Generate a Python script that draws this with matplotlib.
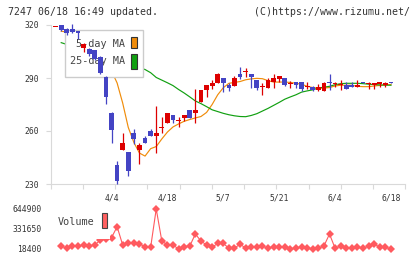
import numpy as np
import matplotlib.pyplot as plt
from matplotlib.patches import Rectangle

# trading days 3/21 .. 6/18, first one has no volume point
dates = ['3/21', '3/22', '3/25', '3/26', '3/27', '3/28', '3/29',
         '4/1', '4/2', '4/3', '4/4', '4/5', '4/8', '4/9', '4/10', '4/11', '4/12',
         '4/15', '4/16', '4/17', '4/18', '4/19', '4/22', '4/23', '4/24', '4/25',
         '4/26', '4/30', '5/1', '5/2', '5/7', '5/8', '5/9', '5/10', '5/13', '5/14',
         '5/15', '5/16', '5/17', '5/20', '5/21', '5/22', '5/23', '5/24', '5/27',
         '5/28', '5/29', '5/30', '5/31', '6/3', '6/4', '6/5', '6/6', '6/7', '6/10',
         '6/11', '6/12', '6/13', '6/14', '6/17', '6/18']

opens = [319, 319.8, 318, 318, 316.8, 306.8, 306.2, 305.8, 302, 290.4,
         270.4, 240.8, 249.3, 248.1, 258.7, 249.3, 256.2, 260, 257.3, 262,
         264.7, 269, 265.8, 267.5, 271.9, 270.4, 276.6, 283.2, 285.7, 287,
         290, 286, 285.7, 292.3, 293.6, 292.3, 288.9, 285, 284.5, 287.5,
         289.3, 290, 287, 287.7, 287.7, 285.1, 284.7, 283.2, 282.8, 287.7,
         287, 286.2, 285.9, 285.9, 284.7, 287.7, 287, 285.9, 286.6, 285.9, 287.7]
highs = [319, 320, 318.5, 320.5, 316.8, 310, 306.8, 306, 302.5, 291,
         271, 243, 258.7, 248.1, 261.1, 253.4, 257.2, 261.3, 274.2, 267.8,
         270.3, 269, 267.8, 269, 272, 283.8, 283.2, 286, 288.9, 292.8,
         290, 287.4, 291.1, 296.4, 295.5, 292.3, 288.9, 287.4, 289.8, 292.3,
         291.1, 290, 288.5, 287.7, 287.7, 287.7, 285.5, 286.5, 288, 292.3,
         287.7, 288.9, 287.5, 287.5, 288.9, 287.7, 287.7, 287.2, 287.7, 287.7, 287.7]
lows = [319, 316.4, 314.5, 315.5, 312, 305, 302.6, 300, 292.5, 275.3,
        253.4, 230, 249.3, 234.7, 252.6, 241.3, 253.4, 257, 247.7, 259,
        264.7, 264.7, 262.4, 265.6, 267.5, 264.7, 276.6, 279.1, 283.6, 287,
        281.9, 282.8, 285.7, 289.3, 290.7, 284.3, 283.2, 280.4, 284.5, 284.5,
        287.5, 285.7, 284.5, 284.5, 282.5, 283.6, 282.8, 282.5, 282.8, 283.4,
        284.7, 283.2, 283.6, 284.7, 284.7, 287, 283.6, 283.6, 284.7, 284.7, 287]
closes = [319, 317, 315.2, 315.8, 315.5, 309.2, 303.6, 300.6, 292.7, 279.4,
          260.6, 231.9, 253, 237.5, 255.5, 252.1, 253.4, 257.2, 258.7, 262,
          270, 266.2, 265.8, 269, 267.5, 271.9, 283.2, 286, 287.4, 292.3,
          287, 284.3, 290, 290.8, 293.6, 290.8, 284.3, 285, 288.9, 290.1,
          291.1, 285.8, 287, 285.9, 283.6, 285.1, 283.2, 285.1, 287.4, 287,
          287, 286.2, 283.6, 284.7, 286.2, 287, 287, 287.2, 287.7, 287.2, 287]

ma5 = [np.nan, 316.5, 316, 315.5, 315.5, 315.2, 313.5, 310.8, 307, 301.5,
       294, 287.2, 275.8, 262, 253.5, 247.5, 245.8, 250, 251.2, 255.5,
       259.4, 262.3, 264, 265.5, 266.5, 267.4, 268.2, 270.5, 275, 280.5,
       284.5, 287, 287.5, 288, 289, 289.5, 289.8, 289.6, 288.5, 287.7,
       287.7, 287.7, 287.5, 287, 286.5, 285.3, 284.6, 284.3, 284.3, 284.6,
       285.5, 285.9, 285.9, 285.9, 285.3, 285.1, 285.1, 285.5, 285.8, 286, 286.3]
ma25 = [np.nan, 310, 309, 308.3, 307.5, 306.7, 305.8, 304.8, 303.8, 302.7,
        301.6, 300.4, 299.2, 298, 296.9, 295.9, 294.8, 293, 290.3, 288.8,
        287.3, 285.7, 283.5, 281.5, 279.3, 277, 275.5, 273.8, 272, 271,
        270, 269.2, 268.6, 268.2, 268.1, 268.8, 269.8, 271.3, 272.8, 274.5,
        276.2, 278, 279.3, 280.5, 282, 282.7, 283.3, 284.3, 284.8, 285.3,
        286.2, 286.8, 287, 287, 287, 286.8, 286.5, 286.3, 286.1, 286, 285.9]

volume = [np.nan, 65400, 29400, 65000, 65000, 81000, 65000, 81000, 159000, 180000,
          195000, 368000, 81000, 117000, 107000, 97000, 55000, 45000, 644900, 144000,
          81000, 81000, 18400, 55000, 65000, 253000, 144000, 81000, 45000, 107000,
          107000, 29400, 29400, 97000, 29400, 45000, 55000, 65000, 29400, 55000,
          45000, 45000, 18400, 29400, 55000, 29400, 18400, 29400, 65000, 253000,
          29400, 65000, 29400, 29400, 45000, 29400, 65000, 97000, 45000, 45000, 18400]

tick_dates = ['4/4', '4/18', '5/7', '5/21', '6/4', '6/18']
price_ticks = [230, 260, 290, 320]
vol_ticks = [18400, 331650, 644900]

W, H = 420, 259
plt.rcParams['font.family'] = 'DejaVu Sans Mono'
fig = plt.figure(figsize=(4.2, 2.59), dpi=100)


def fx(x):
    return x / W


def fy(y):
    return 1 - y / H


gray = '#d9d9d9'
txt = '#333333'
red = '#dd0000'
blue = '#4444c4'

x = np.arange(-1, len(dates) - 1)
xlim = (-1.88, 61.56)

# ---- price panel
ax = fig.add_axes([fx(50.7), fy(184), fx(405.3) - fx(50.7), fy(25) - fy(184)])
o = np.array(opens)
c = np.array(closes)
cols = [red if cc >= oo else blue for oo, cc in zip(o, c)]
body = np.abs(c - o)
bot = np.minimum(o, c) - np.clip(0.6 - body, 0, None) / 2
body = np.maximum(body, 0.6)
ax.vlines(x, lows, highs, colors=cols, lw=0.9, zorder=6, clip_on=False)
ax.bar(x, body, bottom=bot, width=0.85, color=cols, lw=0, zorder=7, clip_on=False)

ax.plot(x, ma5, color='#f08c0a', lw=0.85, zorder=2)
ax.plot(x, ma25, color='#11a011', lw=0.85, zorder=2)

ax.set_xlim(*xlim)
ax.set_ylim(230, 320)
ax.set_yticks(price_ticks)
ax.set_xticks(np.linspace(xlim[0], xlim[1], 12))
ax.set_xticklabels([])
for s in ['top', 'right']:
    ax.spines[s].set_visible(False)
for s in ['left', 'bottom']:
    ax.spines[s].set_color(gray)
ax.tick_params(colors=gray, labelcolor=txt, labelsize=5.8, length=3.6, pad=4.6)

for d in tick_dates:
    ax.text(dates.index(d) - 1, -0.088, d, transform=ax.get_xaxis_transform(),
            ha='center', va='center', fontsize=5.8, color=txt)

# legend of the price panel (drawn under the candles)
ax.add_artist(Rectangle((fx(65), fy(77.3)), fx(143.3) - fx(65), fy(30) - fy(77.3),
                        transform=fig.transFigure, facecolor='white',
                        edgecolor='#cccccc', lw=1, zorder=4))
ax.text(fx(125.5), fy(44), '5-day MA', transform=fig.transFigure, ha='right',
        va='center', fontsize=7.3, color='#444444', zorder=5)
ax.text(fx(125.5), fy(61.5), '25-day MA', transform=fig.transFigure, ha='right',
        va='center', fontsize=7.3, color='#444444', zorder=5)
ax.add_artist(Rectangle((fx(131), fy(48.3)), fx(6.3), 11 / H, transform=fig.transFigure,
                        facecolor='#f08c0a', edgecolor='#333333', lw=0.8, zorder=5))
ax.add_artist(Rectangle((fx(131), fy(69.3)), fx(6.3), 15 / H, transform=fig.transFigure,
                        facecolor='#11a011', edgecolor='#333333', lw=0.8, zorder=5))

# ---- volume panel
vax = fig.add_axes([fx(50.7), fy(249), fx(405.3) - fx(50.7), fy(209) - fy(249)])
vax.plot(x, volume, color='#ff5a5f', lw=0.8, marker='D', ms=3.7, mew=0,
         zorder=2, clip_on=False)
vax.set_xlim(*xlim)
vax.set_ylim(18400, 644900)
vax.set_yticks(vol_ticks)
vax.set_yticklabels([str(v) for v in vol_ticks])
vax.set_xticks([])
for s in vax.spines.values():
    s.set_visible(False)
vax.tick_params(length=0, labelcolor=txt, labelsize=5.8, pad=6.4)

vax.add_artist(Rectangle((fx(55), fy(238.5)), fx(54.5), 28.5 / H, transform=fig.transFigure,
                         facecolor='white', edgecolor='none', zorder=3))
vax.text(fx(58), fy(222), 'Volume', transform=fig.transFigure, ha='left', va='center',
         fontsize=7.3, color='#444444', zorder=4)
vax.add_artist(Rectangle((fx(101.7), fy(228.3)), fx(5.6), 15 / H, transform=fig.transFigure,
                         facecolor='#ff6060', edgecolor='#444444', lw=0.8, zorder=4))

fig.text(fx(8), fy(12), '7247 06/18 16:49 updated.', ha='left', va='center',
         fontsize=7.1, color=txt)
fig.text(fx(410), fy(12), '(C)https://www.rizumu.net/', ha='right', va='center',
         fontsize=7.1, color=txt)

fig.savefig('out.png', dpi=100)
